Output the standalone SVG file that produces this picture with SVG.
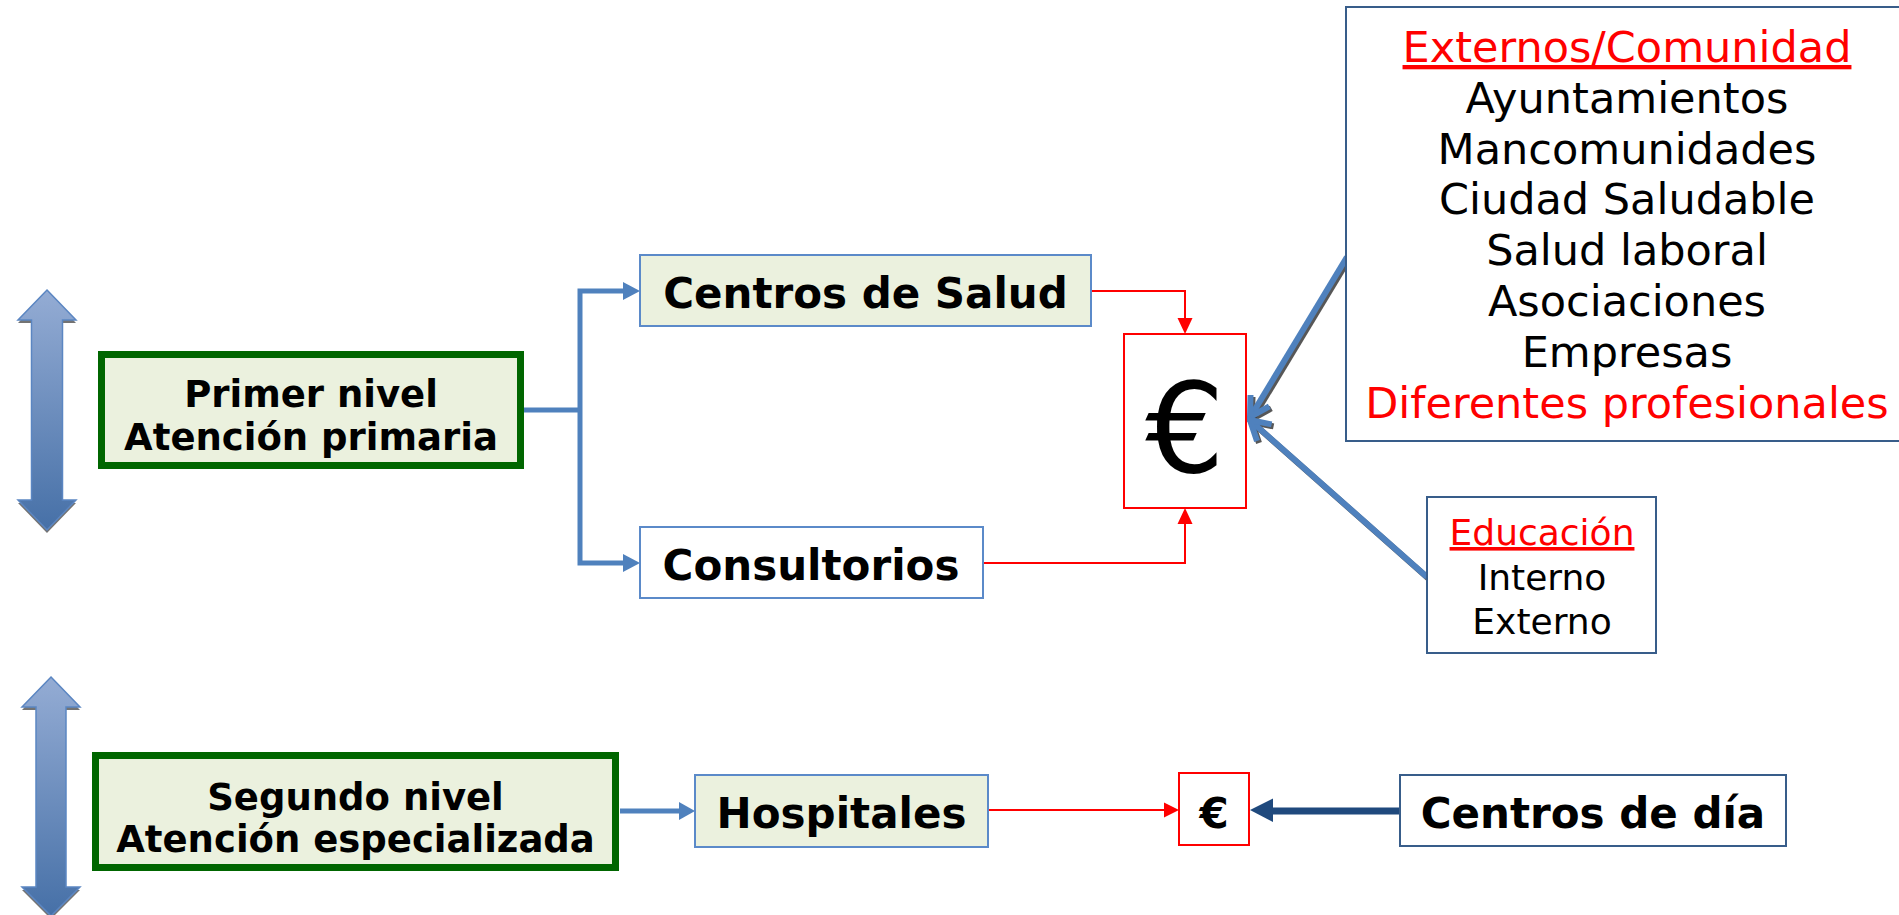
<svg xmlns="http://www.w3.org/2000/svg" width="1899" height="915" viewBox="0 0 1899 915">
<defs>
<linearGradient id="g" x1="0" y1="0" x2="0" y2="1">
<stop offset="0" stop-color="#94acd4"/>
<stop offset="1" stop-color="#4670a7"/>
</linearGradient>
<style>
.lvl{fill:#ebf1de;stroke:#006600;stroke-width:7}
.bx{fill:#ebf1de;stroke:#5b8ac9;stroke-width:2}
.bw{fill:#ffffff;stroke:#5b8ac9;stroke-width:2}
.bd{fill:#ffffff;stroke:#385d8a;stroke-width:2}
.er{fill:#ffffff;stroke:#ff0000;stroke-width:2}
.b{font-family:"DejaVu Sans",Verdana,sans-serif;font-weight:bold;fill:#000;text-anchor:middle}
.r{font-family:"DejaVu Sans",Verdana,sans-serif;fill:#000;text-anchor:middle}
.red{fill:#ff0000}
.dbl{fill:url(#g);stroke:#5b86c2;stroke-width:1.5}
.sh{fill:#444;opacity:0.75}
.bl{fill:none;stroke:#4f81bd;stroke-width:5}
.rl{fill:none;stroke:#ff0000;stroke-width:2}
.oa{fill:none;stroke:#4f81bd;stroke-width:6;stroke-linecap:butt;stroke-linejoin:miter}
.oas{fill:none;stroke:#3a3a3a;stroke-width:6;opacity:0.85}
</style>
</defs>
<rect width="1899" height="915" fill="#ffffff"/>

<g id="arrow-level1">
<path class="sh" d="M47,293 L76,323 L62.5,323 L62.5,503 L76,503 L47,533 L18,503 L31.5,503 L31.5,323 L18,323 Z"/>
<path class="dbl" d="M47,290 L76,320 L62.5,320 L62.5,500 L76,500 L47,530 L18,500 L31.5,500 L31.5,320 L18,320 Z"/>
</g>
<g id="arrow-level2">
<path class="sh" d="M51,680 L80,710 L66,710 L66,890 L80,890 L51,919 L22,890 L36,890 L36,710 L22,710 Z"/>
<path class="dbl" d="M51,677 L80,707 L66,707 L66,887 L80,887 L51,916 L22,887 L36,887 L36,707 L22,707 Z"/>
</g>
<g id="arrow-right">
<path class="sh" d="M1871,92 L1899,121 L1887,121 L1887,303 L1899,303 L1871,333 L1843,303 L1855,303 L1855,121 L1843,121 Z"/>
<path class="dbl" d="M1871,89 L1899,118 L1887,118 L1887,300 L1899,300 L1871,330 L1843,300 L1855,300 L1855,118 L1843,118 Z"/>
</g>

<g id="connectors">
<path class="bl" d="M524,410 H580"/>
<path class="bl" d="M623,291 H580 V563 H623"/>
<polygon fill="#4f81bd" points="640,291 623,282 623,300"/>
<polygon fill="#4f81bd" points="640,563 623,554 623,572"/>
<path class="bl" d="M620,811 H680"/>
<polygon fill="#4f81bd" points="695,811 679,802 679,820"/>
<path class="rl" d="M1091,291 H1185 V318"/>
<polygon class="red" points="1185,334 1177.5,318 1192.5,318"/>
<path class="rl" d="M983,563 H1185 V524"/>
<polygon class="red" points="1185,508 1177.5,524 1192.5,524"/>
<path class="rl" d="M988,810 H1165"/>
<polygon class="red" points="1179,810 1164,802.5 1164,817.5"/>
<path fill="none" stroke="#1f497d" stroke-width="7" d="M1400,811 H1270"/>
<polygon fill="#1f497d" points="1250,810 1273,798.5 1273,822"/>
<g transform="translate(2,2)">
<path class="oas" d="M1347,257 L1251,416"/>
<path class="oas" d="M1269.3,406.4 L1250,417 L1250.5,395"/>
<path class="oas" d="M1427,577 L1252,422"/>
<path class="oas" d="M1257,441 L1250,420 L1271.6,424.4"/>
</g>
<path class="oa" d="M1347,257 L1251,416"/>
<path class="oa" d="M1269.3,406.4 L1250,417 L1250.5,395"/>
<path class="oa" d="M1427,577 L1252,422"/>
<path class="oa" d="M1257,441 L1250,420 L1271.6,424.4"/>
</g>

<g id="primer-nivel">
<rect class="lvl" x="101.5" y="354.5" width="419" height="111"/>
<text class="b" x="311" y="407" font-size="37">Primer nivel</text>
<text class="b" x="311" y="450" font-size="37">Atención primaria</text>
</g>
<g id="centros-salud">
<rect class="bx" x="640" y="255" width="451" height="71"/>
<text class="b" x="865.5" y="308" font-size="42">Centros de Salud</text>
</g>
<g id="consultorios">
<rect class="bw" x="640" y="527" width="343" height="71"/>
<text class="b" x="811" y="580" font-size="42">Consultorios</text>
</g>
<g id="euro-main">
<rect class="er" x="1124" y="334" width="122" height="174"/>
<text class="r" x="1185" y="472" font-size="125">€</text>
</g>
<g id="externos">
<rect class="bd" x="1346" y="7" width="570" height="434"/>
<text class="r" font-size="43" x="1627" y="62" fill="#ff0000" style="fill:#ff0000" text-decoration="underline">Externos/Comunidad</text>
<text class="r" font-size="43" x="1627" y="113">Ayuntamientos</text>
<text class="r" font-size="43" x="1627" y="164">Mancomunidades</text>
<text class="r" font-size="43" x="1627" y="214">Ciudad Saludable</text>
<text class="r" font-size="43" x="1627" y="265">Salud laboral</text>
<text class="r" font-size="43" x="1627" y="316">Asociaciones</text>
<text class="r" font-size="43" x="1627" y="367">Empresas</text>
<text class="r" font-size="43" x="1627" y="418" style="fill:#ff0000">Diferentes profesionales</text>
</g>
<g id="educacion">
<rect class="bd" x="1427" y="497" width="229" height="156"/>
<text class="r" font-size="36" x="1542" y="545" style="fill:#ff0000" text-decoration="underline">Educación</text>
<text class="r" font-size="36" x="1542" y="590">Interno</text>
<text class="r" font-size="36" x="1542" y="634">Externo</text>
</g>

<g id="segundo-nivel">
<rect class="lvl" x="95.5" y="755.5" width="520" height="112"/>
<text class="b" x="355.5" y="810" font-size="37">Segundo nivel</text>
<text class="b" x="355.5" y="852" font-size="37">Atención especializada</text>
</g>
<g id="hospitales">
<rect class="bx" x="695" y="775" width="293" height="72"/>
<text class="b" x="841.5" y="828" font-size="42">Hospitales</text>
</g>
<g id="euro-small">
<rect class="er" x="1179" y="773" width="70" height="72" stroke-width="2.5"/>
<text class="b" x="1214" y="828" font-size="42">€</text>
</g>
<g id="centros-dia">
<rect class="bd" x="1400" y="775" width="386" height="71" stroke-width="2.5"/>
<text class="b" x="1593" y="828" font-size="42">Centros de día</text>
</g>
</svg>
